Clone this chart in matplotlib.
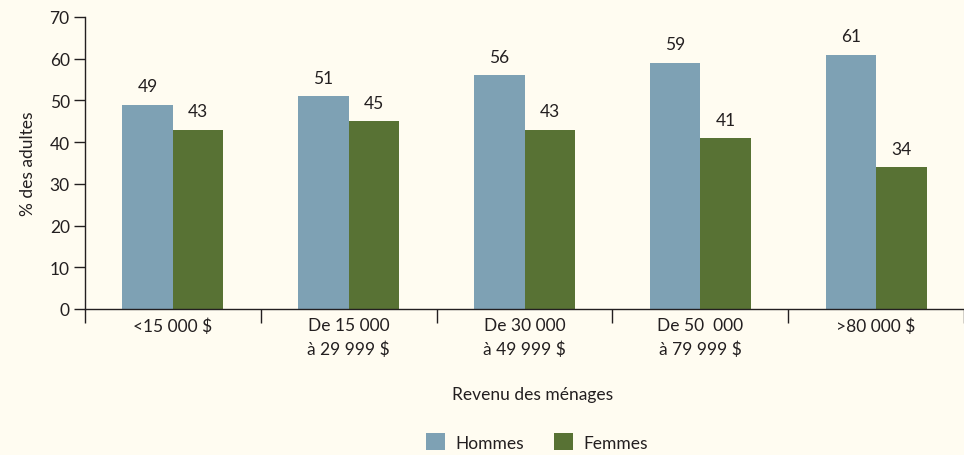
import matplotlib
matplotlib.use("Agg")
import matplotlib.pyplot as plt
import numpy as np

categories = ["<15 000 $", "De 15 000\nà 29 999 $", "De 30 000\nà 49 999 $",
              "De 50  000\nà 79 999 $", ">80 000 $"]
hommes = [49, 51, 56, 59, 61]
femmes = [43, 45, 43, 41, 34]
yticks = [0, 10, 20, 30, 40, 50, 60, 70]

bg = "#FFFCF1"
c_h = "#7EA1B4"
c_f = "#587234"
ink = "#231F20"

plt.rcParams["font.family"] = ["Lato", "DejaVu Sans"]
fs = 12.5

fig = plt.figure(figsize=(9.64, 4.56), dpi=100, facecolor=bg)
ax = fig.add_axes([85 / 964, 1 - 310 / 456, 879 / 964, 292 / 456])
ax.set_facecolor(bg)

x = np.arange(len(categories))
w = 0.287
bh = ax.bar(x - w / 2, hommes, w, color=c_h, label="Hommes")
bf = ax.bar(x + w / 2, femmes, w, color=c_f, label="Femmes")

for bars, vals in ((bh, hommes), (bf, femmes)):
    for b, v in zip(bars, vals):
        ax.annotate(str(v), (b.get_x() + b.get_width() / 2, v),
                    xytext=(0, 7.5), textcoords="offset points",
                    ha="center", va="bottom", fontsize=fs, color=ink)

ax.set_xlim(-0.5, 4.45)
ax.set_ylim(0, 70)
ax.set_yticks(yticks)
ax.tick_params(axis="y", length=8, width=1, colors=ink, labelsize=fs, pad=3)

ax.set_xticks(np.arange(-0.5, len(categories), 1.0))
ax.set_xticklabels([])
ax.tick_params(axis="x", which="major", length=10, width=1, color=ink)
ax.set_xticks(x, minor=True)
ax.set_xticklabels(categories, minor=True, fontsize=fs, color=ink, linespacing=1.55)
ax.tick_params(axis="x", which="minor", length=0, pad=6)

for s in ("top", "right"):
    ax.spines[s].set_visible(False)
for s in ("left", "bottom"):
    ax.spines[s].set_color(ink)
    ax.spines[s].set_linewidth(1)

ax.set_ylabel("% des adultes", fontsize=fs, color=ink, labelpad=10)
fig.text(533 / 964, 1 - 395 / 456, "Revenu des ménages", ha="center", va="center",
         fontsize=fs, color=ink)

fig.legend(handles=[bh, bf], labels=["Hommes", "Femmes"], loc="center",
           bbox_to_anchor=(537 / 964, 1 - 443 / 456), ncol=2, frameon=False,
           fontsize=fs, handlelength=1.1, handleheight=1.1, columnspacing=1.7,
           handletextpad=0.6, labelcolor=ink)

fig.savefig("out.png", dpi=100, facecolor=bg)
